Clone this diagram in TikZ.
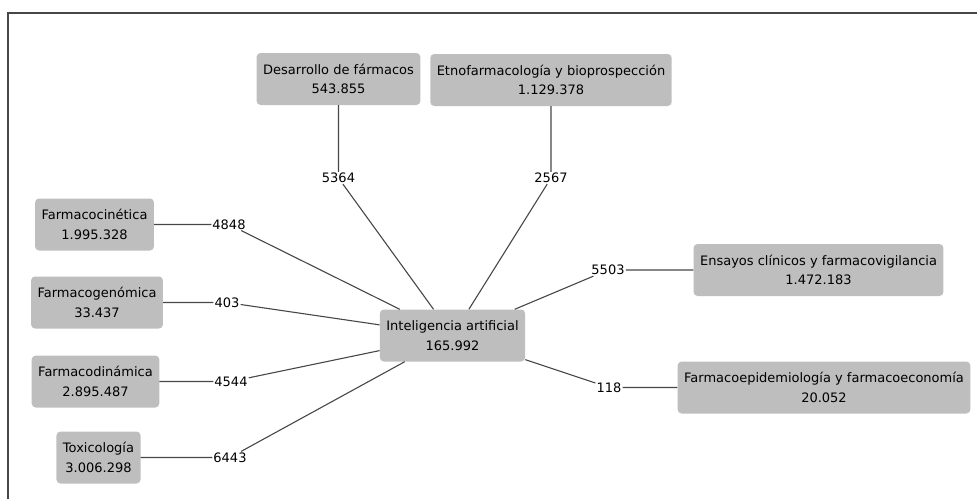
\documentclass[tikz,border=0pt]{standalone}
\usepackage{fontspec}
\setmainfont{DejaVu Sans}
\usetikzlibrary{positioning}

\definecolor{boxgray}{HTML}{BEBEBE}
\definecolor{linegray}{HTML}{474747}

\begin{document}
\begin{tikzpicture}[x=1pt,y=-1pt,node distance=100pt,on grid,
    tema/.style={rectangle, rounded corners=4pt, fill=boxgray, align=center,
        inner xsep=6.5pt, minimum height=52pt, text=black,
        font=\fontsize{13}{19.5}\selectfont},
    cuenta/.style={inner sep=1pt, text=black, font=\fontsize{13}{15}\selectfont},
    enlace/.style={draw=linegray, line width=1.1pt}]
\useasboundingbox (0,0) rectangle (977,499);
\draw[linegray, line width=2pt] (8,499) -- (8,13) -- (977,13);

\node[tema] (ia) at (452.5,335.5) {Inteligencia artificial\\165.992};

\node[tema, above left = 256.5pt and 114pt of ia] (des) {Desarrollo de fármacos\\543.855};
\node[tema, above right = 255.5pt and 98.5pt of ia] (etno) {Etnofarmacología y bioprospección\\1.129.378};
\node[tema, above left = 111pt and 358pt of ia] (cin) {Farmacocinética\\1.995.328};
\node[tema, above left = 33pt and 355.5pt of ia] (gen) {Farmacogenómica\\33.437};
\node[tema, below left = 46pt and 357pt of ia] (din) {Farmacodinámica\\2.895.487};
\node[tema, below left = 122pt and 354pt of ia] (tox) {Toxicología\\3.006.298};
\node[tema, above right = 65.5pt and 366pt of ia] (ens) {Ensayos clínicos y farmacovigilancia\\1.472.183};
\node[tema, below right = 52pt and 371.5pt of ia] (epi) {Farmacoepidemiología y farmacoeconomía\\20.052};

% counts
\node[cuenta, below = 99pt of des] (n1) {5364};
\node[cuenta, below = 98pt of etno] (n2) {2567};
\node[cuenta, right = 134.5pt of cin] (n3) {4848};
\node[cuenta, right = 130pt of gen] (n4) {403};
\node[cuenta, right = 135.5pt of din] (n5) {4544};
\node[cuenta, right = 131.5pt of tox] (n6) {6443};
\node[cuenta, left = 210.5pt of ens] (n7) {5503};
\node[cuenta, left = 215pt of epi] (n8) {118};

\path[enlace] (des) -- (n1) (n1) -- (ia)
    (etno) -- (n2) (n2) -- (ia)
    (cin) -- (n3) (n3) -- (ia)
    (gen) -- (n4) (n4) -- (ia)
    (din) -- (n5) (n5) -- (ia)
    (tox) -- (n6) (n6) -- (ia)
    (ens) -- (n7) (n7) -- (ia)
    (epi) -- (n8) (n8) -- (ia);
\end{tikzpicture}
\end{document}
